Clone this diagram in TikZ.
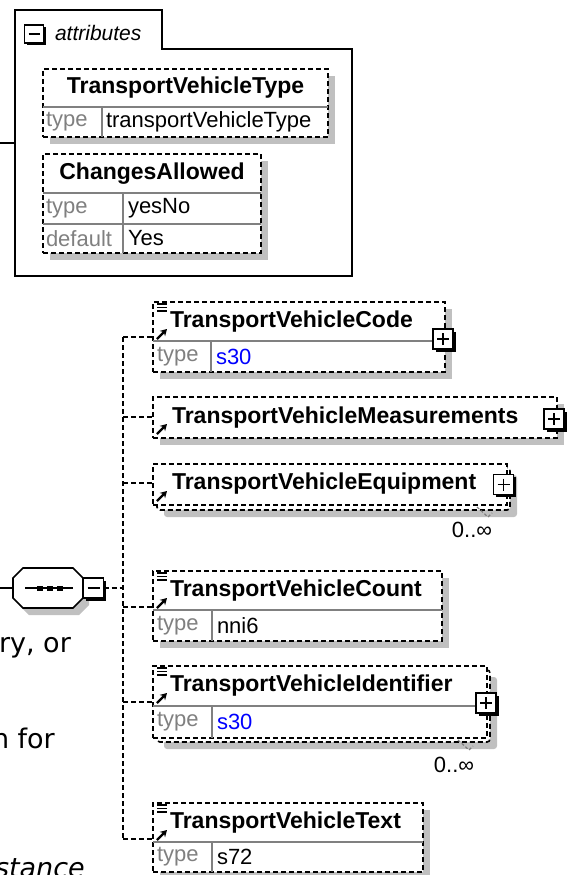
\documentclass[tikz,border=0pt]{standalone}
\usepackage{fontspec}
\setmainfont{Liberation Sans}
\newfontfamily\bgfont{DejaVu Sans}[ItalicFont={DejaVu Sans Oblique}]
\usetikzlibrary{arrows.meta,calc,shadows}
\definecolor{shadowgray}{RGB}{192,192,192}
\definecolor{linegray}{RGB}{128,128,128}
\definecolor{typeblue}{RGB}{0,0,255}
\tikzset{
  every node/.style={inner sep=0pt, outer sep=0pt},
  dsh/.style={dash pattern=on 5pt off 3pt},
  boxshadow/.style={drop shadow={shadow xshift=7pt, shadow yshift=-7pt, fill=shadowgray, opacity=1}},
  elbox/.style={draw=black, line width=1.6pt, dsh, fill=white, rectangle, anchor=north west, boxshadow},
  backbox/.style={draw=black, line width=1.6pt, dsh, fill=white, rectangle, anchor=north west, rounded corners=3pt, boxshadow},
  frontbox/.style={draw=black, line width=1.6pt, dsh, fill=white, rectangle, anchor=north west},
  divline/.style={draw=linegray, line width=1.5pt},
  titletxt/.style={font=\fontsize{23}{27}\selectfont\bfseries, text=black},
  lbl/.style={font=\fontsize{22}{26}\selectfont, text=linegray, anchor=west},
  val/.style={font=\fontsize{22}{26}\selectfont, text=black, anchor=west},
  toggle/.style={draw=black, line width=1.8pt, fill=white, rectangle, minimum width=20pt, minimum height=20pt,
    drop shadow={shadow xshift=2.5pt, shadow yshift=-2.5pt, fill=black, opacity=1}},
  togminus/.style={toggle, path picture={\draw[line width=1.8pt] ([xshift=4pt]path picture bounding box.west) -- ([xshift=-4pt]path picture bounding box.east);}},
  togplus/.style={toggle, path picture={\draw[line width=1.8pt] ([xshift=4pt]path picture bounding box.west) -- ([xshift=-4pt]path picture bounding box.east) ([yshift=-4pt]path picture bounding box.north) -- ([yshift=4pt]path picture bounding box.south);}},
  conn/.style={draw=black, line width=1.6pt, dsh},
  occmark/.style={draw=linegray, line width=1.2pt, dash pattern=on 3pt off 2pt},
  simpleicon/.pic={\draw[line width=1.4pt] (0,0)--(10,0) (0,3.5)--(10,3.5) (0,7)--(10,7);},
  refarrow/.pic={\draw[line width=2.2pt, -{Stealth[length=6.5pt,width=7.5pt]}] (0,0) -- (10,-10);},
}
\begin{document}
\begin{tikzpicture}[x=1pt, y=-1pt]
\useasboundingbox (0,0) rectangle (570,875);

% ---------- background text fragments ----------
\node[font=\bgfont\fontsize{27}{32}\selectfont, anchor=base west] (bg1) at (-1,652) {ry, or};
\node[font=\bgfont\fontsize{27}{32}\selectfont, anchor=base west] (bg2) at (-8,748) {n for};
\node[font=\bgfont\itshape\fontsize{27}{32}\selectfont, anchor=base west] (bg3) at (-5,877) {stance};

% ---------- attributes container ----------
\coordinate (attrin) at (0,143);
\coordinate (attrL) at (15,143);
\draw[line width=1.8pt] (15,276) -- (15,10) -- (162,10) -- (162,49) -- (352,49) -- (352,276) -- cycle;
\draw[line width=1.8pt] (attrin) -- (attrL);
\node[togminus, minimum width=19pt, minimum height=18pt] (attrtog) at (34,34) {};
\node[font=\fontsize{21}{25}\selectfont\itshape, anchor=west] (attrlbl) at (55,33) {attributes};

% TransportVehicleType
\node[elbox, minimum width=285pt, minimum height=68pt] (tvt) at (43,69) {};
\draw[divline] ($(tvt.north west)+(0,38)$) -- ($(tvt.north east)+(0,38)$);
\draw[divline] (102,107) -- (102,137);
\node[titletxt] (tvt-name) at ($(tvt.north)+(0,19)$) {TransportVehicleType};
\node[lbl] (tvt-type) at (46,122) {type};
\node[val] (tvt-val) at (106,122) {transportVehicleType};

% ChangesAllowed
\node[elbox, minimum width=218pt, minimum height=99pt] (ca) at (43,154) {};
\draw[divline] (43,193) -- (261,193);
\draw[divline] (43,224) -- (261,224);
\draw[divline] (123,193) -- (123,253);
\node[titletxt] (ca-name) at (152,173.5) {ChangesAllowed};
\node[lbl] (ca-type) at (46,208.5) {type};
\node[val] (ca-val) at (128,208.5) {yesNo};
\node[lbl] (ca-def) at (46,238.5) {default};
\node[val] (ca-defval) at (128,238.5) {Yes};

% ---------- sequence compositor ----------
\node[minimum width=70pt, minimum height=40pt] (seq) at (48,588) {};
\fill[shadowgray] (19,585) -- (29,575) -- (79,575) -- (89,585) -- (89,605) -- (79,615) -- (29,615) -- (19,605) -- cycle;
\draw[line width=1.6pt, fill=white] (13,578) -- (23,568) -- (73,568) -- (83,578) -- (83,598) -- (73,608) -- (23,608) -- (13,598) -- cycle;
\draw[line width=1.6pt] (25,588) -- (73,588);
\fill (37,585.5) rectangle (42.5,591);
\fill (47,585.5) rectangle (52.5,591);
\fill (57,585.5) rectangle (62.5,591);
\coordinate (seqin) at (0,588);
\draw[line width=1.6pt] (seqin) -- (seq.west);
\node[togminus] (seqtog) at (93.5,588) {};

% ---------- children ----------
% TransportVehicleCode
\node[elbox, minimum width=292pt, minimum height=70pt] (code) at (153,302) {};
\draw[divline] ($(code.north west)+(0,39)$) -- ($(code.north east)+(0,39)$);
\draw[divline] (211,341) -- (211,372);
\node[titletxt, anchor=west] (code-name) at (170,321.5) {TransportVehicleCode};
\node[lbl] (code-type) at (157,356.5) {type};
\node[val, text=typeblue] (code-val) at (216,356.5) {s30};
\pic at (157,304) {simpleicon};
\pic at (157,339) {refarrow};
\node[togplus] (code-tog) at (443,339) {};
\coordinate (code-in) at (153,337);

% TransportVehicleMeasurements
\node[elbox, minimum width=404pt, minimum height=41pt] (meas) at (153,397) {};
\node[titletxt, anchor=west] (meas-name) at (172,417.5) {TransportVehicleMeasurements};
\pic at (157,434) {refarrow};
\node[togplus] (meas-tog) at (554,419) {};
\coordinate (meas-in) at (153,417);

% TransportVehicleEquipment
\node[backbox, minimum width=353pt, minimum height=42pt] (equip-b) at (157,468) {};
\node[frontbox, minimum width=354pt, minimum height=41pt] (equip) at (153,464) {};
\node[titletxt, anchor=west] (equip-name) at (172,484) {TransportVehicleEquipment};
\pic at (157,501) {refarrow};
\node[togplus] (equip-tog) at (503.5,484.5) {};
\draw[occmark] (477,507) -- (488,517) -- (492,513);
\node[font=\fontsize{22}{26}\selectfont] (equip-occ) at (472,530) {0..∞};
\coordinate (equip-in) at (153,483);

% TransportVehicleCount
\node[elbox, minimum width=289pt, minimum height=70pt] (count) at (153,571) {};
\draw[divline] ($(count.north west)+(0,39)$) -- ($(count.north east)+(0,39)$);
\draw[divline] (212,610) -- (212,641);
\node[titletxt, anchor=west] (count-name) at (170,590.5) {TransportVehicleCount};
\node[lbl] (count-type) at (157,625.5) {type};
\node[val] (count-val) at (217,625.5) {nni6};
\pic at (157,573) {simpleicon};
\pic at (157,608) {refarrow};
\coordinate (count-in) at (153,607);

% TransportVehicleIdentifier
\node[backbox, minimum width=333pt, minimum height=72pt] (ident-b) at (157,670) {};
\node[frontbox, minimum width=334pt, minimum height=72pt] (ident) at (153,666) {};
\draw[divline] ($(ident.north west)+(0,40)$) -- ($(ident.north east)+(0,40)$);
\draw[divline] (212,706) -- (212,738);
\node[titletxt, anchor=west] (ident-name) at (170,686) {TransportVehicleIdentifier};
\node[lbl] (ident-type) at (157,722) {type};
\node[val, text=typeblue] (ident-val) at (217,722) {s30};
\pic at (157,668) {simpleicon};
\pic at (157,703) {refarrow};
\node[togplus] (ident-tog) at (486,703) {};
\draw[occmark] (458,740) -- (469,750) -- (473,746);
\node[font=\fontsize{22}{26}\selectfont] (ident-occ) at (454,765) {0..∞};
\coordinate (ident-in) at (153,702);

% TransportVehicleText
\node[elbox, minimum width=270pt, minimum height=69pt] (text) at (153,803) {};
\draw[divline] ($(text.north west)+(0,39)$) -- ($(text.north east)+(0,39)$);
\draw[divline] (212,842) -- (212,872);
\node[titletxt, anchor=west] (text-name) at (170,822.5) {TransportVehicleText};
\node[lbl] (text-type) at (157,857) {type};
\node[val] (text-val) at (217,857) {s72};
\pic at (157,805) {simpleicon};
\pic at (157,840) {refarrow};
\coordinate (text-in) at (153,839);

% ---------- connectors ----------
\coordinate (bus) at (123,588);
\draw[conn] (seqtog.east) -- (bus);
\draw[conn] (bus |- code-in) -- (bus |- text-in);
\foreach \c in {code,meas,equip,count,ident,text}{
  \draw[conn] (bus |- \c-in) -- (\c-in);
}
\end{tikzpicture}
\end{document}
